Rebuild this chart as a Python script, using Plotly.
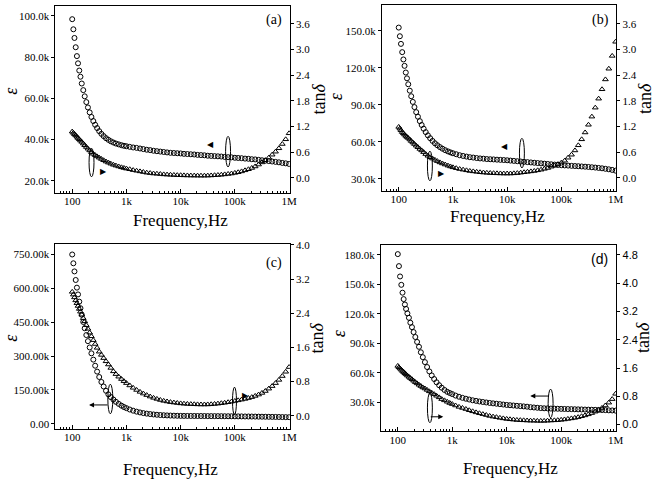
import plotly.graph_objects as go

W, H = 661, 480

# ---------------- data ----------------
freq_hz = [100, 105, 110, 116, 122, 128, 135, 142, 150, 160,
           170, 182, 195, 210, 226, 245, 265, 288, 315, 345,
           380, 420, 465, 515, 575, 640, 720, 810, 900, 1000,
           1150, 1330, 1540, 1780, 2050, 2370, 2740, 3160, 3650, 4220,
           4870, 5620, 6490, 7500, 8660, 10000, 11500, 13300, 15400, 17800,
           20500, 23700, 27400, 31600, 36500, 42200, 48700, 56200, 64900, 75000,
           86600, 100000, 115000, 133000, 154000, 178000, 205000, 237000, 274000, 316000,
           365000, 422000, 487000, 562000, 649000, 750000, 866000, 1000000]

# (a)
eps_a_k = [98.4, 93.5, 89.3, 84.8, 80.5, 77.0, 73.5, 70.5, 67.2, 64.0,
           61.0, 58.2, 55.6, 53.2, 51.0, 49.0, 47.2, 45.6, 44.1, 42.8,
           41.7, 40.7, 39.9, 39.2, 38.6, 38.1, 37.7, 37.3, 37.0, 36.8,
           36.5, 36.2, 36.0, 35.7, 35.4, 35.1, 34.9, 34.6, 34.4, 34.2,
           34.0, 33.8, 33.6, 33.5, 33.4, 33.3, 33.1, 33.0, 32.9, 32.8,
           32.6, 32.5, 32.4, 32.2, 32.1, 32.0, 31.9, 31.8, 31.6, 31.5,
           31.4, 31.2, 31.1, 31.0, 30.8, 30.7, 30.5, 30.4, 30.2, 30.0,
           29.8, 29.6, 29.4, 29.2, 29.0, 28.7, 28.5, 28.2]
tan_a = [1.08, 1.05, 1.02, 0.99, 0.96, 0.93, 0.90, 0.87, 0.84, 0.80,
         0.76, 0.72, 0.68, 0.64, 0.60, 0.56, 0.53, 0.50, 0.47, 0.44,
         0.41, 0.38, 0.355, 0.33, 0.305, 0.285, 0.265, 0.245, 0.23, 0.215,
         0.20, 0.18, 0.165, 0.15, 0.135, 0.12, 0.11, 0.10, 0.095, 0.088,
         0.08, 0.075, 0.07, 0.066, 0.062, 0.06, 0.057, 0.055, 0.053, 0.052,
         0.051, 0.050, 0.050, 0.052, 0.055, 0.06, 0.065, 0.072, 0.08, 0.09,
         0.10, 0.115, 0.13, 0.15, 0.175, 0.20, 0.23, 0.265, 0.31, 0.36,
         0.41, 0.47, 0.54, 0.61, 0.69, 0.79, 0.90, 1.04]

# (b)
eps_b_k = [152.5, 145.5, 139.3, 132.6, 126.7, 121.5, 116.1, 111.4, 106.6, 101.4,
           96.9, 92.3, 88.1, 84.0, 80.3, 76.7, 73.6, 70.6, 67.8, 65.2,
           62.9, 60.7, 58.8, 57.2, 55.7, 54.4, 53.2, 52.2, 51.4, 50.7,
           49.9, 49.1, 48.5, 48.0, 47.5, 47.2, 46.8, 46.5, 46.3, 46.0,
           45.85, 45.7, 45.5, 45.35, 45.2, 45.0, 44.75, 44.5, 44.25, 44.0,
           43.75, 43.5, 43.25, 43.0, 42.75, 42.5, 42.25, 42.0, 41.75, 41.5,
           41.25, 41.0, 40.85, 40.7, 40.5, 40.35, 40.2, 40.0, 39.8, 39.6,
           39.35, 39.1, 38.8, 38.5, 38.1, 37.7, 37.2, 36.6]
tan_b = [1.19, 1.15, 1.11, 1.07, 1.04, 1.01, 0.98, 0.955, 0.93, 0.895,
         0.86, 0.825, 0.79, 0.75, 0.715, 0.675, 0.64, 0.60, 0.555, 0.515,
         0.48, 0.45, 0.42, 0.39, 0.36, 0.335, 0.31, 0.285, 0.265, 0.245,
         0.225, 0.205, 0.19, 0.175, 0.16, 0.15, 0.14, 0.13, 0.123, 0.117,
         0.112, 0.108, 0.105, 0.102, 0.10, 0.10, 0.10, 0.105, 0.11, 0.12,
         0.13, 0.14, 0.15, 0.16, 0.175, 0.19, 0.21, 0.23, 0.26, 0.285,
         0.32, 0.355, 0.40, 0.47, 0.54, 0.64, 0.76, 0.90, 1.06, 1.24,
         1.43, 1.64, 1.85, 2.07, 2.30, 2.55, 2.85, 3.18]

# (c)
eps_c_k = [750, 711, 675, 637, 603, 573, 541, 512, 483, 451,
           423, 393, 366, 338, 312, 284, 257, 231, 207, 185,
           165, 146, 130, 118, 107, 97, 88, 80, 74, 69,
           63, 57.8, 53.5, 50, 47.1, 44.7, 42.7, 41, 39.7, 38.5,
           37.6, 36.8, 36.2, 35.6, 35.2, 34.8, 34.6, 34.5, 34.4, 34.3,
           34.2, 34.1, 34.0, 33.8, 33.7, 33.6, 33.5, 33.4, 33.2, 33.1,
           33.0, 32.8, 32.6, 32.4, 32.2, 32.0, 31.8, 31.6, 31.3, 31.1,
           30.8, 30.6, 30.3, 30.1, 29.8, 29.5, 29.2, 28.9]
tan_c = [2.90, 2.835, 2.77, 2.70, 2.635, 2.57, 2.50, 2.435, 2.365, 2.285,
         2.21, 2.12, 2.035, 1.945, 1.86, 1.77, 1.68, 1.59, 1.50, 1.425,
         1.35, 1.275, 1.20, 1.12, 1.04, 0.975, 0.915, 0.86, 0.81, 0.765,
         0.71, 0.655, 0.605, 0.56, 0.52, 0.485, 0.45, 0.42, 0.395, 0.37,
         0.35, 0.335, 0.32, 0.31, 0.30, 0.29, 0.283, 0.278, 0.274, 0.27,
         0.267, 0.265, 0.265, 0.266, 0.27, 0.277, 0.285, 0.295, 0.305, 0.318,
         0.332, 0.347, 0.362, 0.378, 0.395, 0.415, 0.437, 0.465, 0.497, 0.535,
         0.58, 0.635, 0.695, 0.765, 0.84, 0.93, 1.03, 1.14]

# (d)
eps_d_k = [180.7, 168.5, 158.0, 149.5, 141.5, 135.0, 129.5, 125.0, 120.5, 116.0,
           111.0, 106.5, 101.5, 96.5, 91.5, 86.5, 81.0, 76.0, 71.0, 66.0,
           61.5, 57.5, 53.8, 50.5, 47.5, 45.0, 42.7, 40.8, 39.6, 38.5,
           37.0, 35.8, 34.7, 33.8, 33.0, 32.2, 31.6, 31.0, 30.5, 30.0,
           29.5, 29.1, 28.7, 28.3, 27.9, 27.5, 27.2, 26.9, 26.6, 26.3,
           26.0, 25.7, 25.2, 24.9, 24.6, 24.3, 24.1, 24.0, 23.8, 23.7,
           23.6, 23.5, 23.4, 23.3, 23.2, 23.1, 23.0, 22.9, 22.8, 22.7,
           22.6, 22.5, 22.4, 22.3, 22.2, 22.0, 21.9, 21.7]
tan_d = [1.66, 1.62, 1.585, 1.55, 1.515, 1.485, 1.45, 1.42, 1.385, 1.35,
         1.315, 1.28, 1.24, 1.20, 1.165, 1.125, 1.09, 1.05, 1.02, 0.98,
         0.94, 0.90, 0.86, 0.815, 0.77, 0.72, 0.685, 0.645, 0.61, 0.58,
         0.54, 0.50, 0.47, 0.44, 0.405, 0.375, 0.345, 0.32, 0.295, 0.27,
         0.245, 0.225, 0.21, 0.19, 0.175, 0.16, 0.15, 0.14, 0.13, 0.125,
         0.12, 0.115, 0.11, 0.11, 0.105, 0.105, 0.105, 0.11, 0.115, 0.12,
         0.125, 0.135, 0.145, 0.16, 0.175, 0.19, 0.21, 0.235, 0.26, 0.29,
         0.325, 0.365, 0.41, 0.47, 0.54, 0.62, 0.72, 0.87]

# tick values / labels
x_tick_vals = [100, 1000, 10000, 100000, 1000000]
x_tick_text = ["100", "1k", "10k", "100k", "1M"]

eps_a_tick_vals = [20, 40, 60, 80, 100]
eps_a_tick_text = ["20.0k", "40.0k", "60.0k", "80.0k", "100.0k"]
tan_a_tick_vals = [0.0, 0.6, 1.2, 1.8, 2.4, 3.0, 3.6]
tan_a_tick_text = ["0.0", "0.6", "1.2", "1.8", "2.4", "3.0", "3.6"]

eps_b_tick_vals = [30, 60, 90, 120, 150]
eps_b_tick_text = ["30.0k", "60.0k", "90.0k", "120.0k", "150.0k"]
tan_b_tick_vals = [0.0, 0.6, 1.2, 1.8, 2.4, 3.0, 3.6]
tan_b_tick_text = ["0.0", "0.6", "1.2", "1.8", "2.4", "3.0", "3.6"]

eps_c_tick_vals = [0, 150, 300, 450, 600, 750]
eps_c_tick_text = ["0.00", "150.00k", "300.00k", "450.00k", "600.00k", "750.00k"]
tan_c_tick_vals = [0.0, 0.8, 1.6, 2.4, 3.2, 4.0]
tan_c_tick_text = ["0.0", "0.8", "1.6", "2.4", "3.2", "4.0"]

eps_d_tick_vals = [30, 60, 90, 120, 150, 180]
eps_d_tick_text = ["30.0k", "60.0k", "90.0k", "120.0k", "150.0k", "180.0k"]
tan_d_tick_vals = [0.0, 0.8, 1.6, 2.4, 3.2, 4.0, 4.8]
tan_d_tick_text = ["0.0", "0.8", "1.6", "2.4", "3.2", "4.0", "4.8"]

panel_labels = ["(a)", "(b)", "(c)", "(d)"]
x_title = "Frequency,Hz"
eps_title = "<i>ε</i>"
tan_title = "tan<i>δ</i>"

# ---------------- layout helpers ----------------
SERIF = "Liberation Serif"
SANS = "Liberation Sans"


def px(xp):
    return xp / W


def py(yp):
    return 1 - yp / H


panels = [
    dict(eps=eps_a_k, tan=tan_a, x0=56, x1=293, y0=1, y1=190,
         yl=[14.3, 104.8], yr=[-0.346, 4.015],
         lt=(eps_a_tick_vals, eps_a_tick_text), rt=(tan_a_tick_vals, tan_a_tick_text),
         rfont=SERIF, lfont=SERIF),
    dict(eps=eps_b_k, tan=tan_b, x0=386, x1=623, y0=0, y1=188,
         yl=[20.4, 170.8], yr=[-0.30, 4.04],
         lt=(eps_b_tick_vals, eps_b_tick_text), rt=(tan_b_tick_vals, tan_b_tick_text),
         rfont=SERIF, lfont=SERIF),
    dict(eps=eps_c_k, tan=tan_c, x0=56, x1=293, y0=242, y1=429,
         yl=[-21.8, 796.6], yr=[-0.30, 4.02],
         lt=(eps_c_tick_vals, eps_c_tick_text), rt=(tan_c_tick_vals, tan_c_tick_text),
         rfont=SERIF, lfont=SERIF),
    dict(eps=eps_d_k, tan=tan_d, x0=385, x1=623, y0=243, y1=431.7,
         yl=[0.7, 190.0], yr=[-0.19, 5.08],
         lt=(eps_d_tick_vals, eps_d_tick_text), rt=(tan_d_tick_vals, tan_d_tick_text),
         rfont=SANS, lfont=SERIF),
]

fig = go.Figure()
layout = dict(width=W, height=H, margin=dict(l=0, r=0, t=0, b=0, pad=0),
              paper_bgcolor="white", plot_bgcolor="white", showlegend=False,
              font=dict(family=SERIF, size=11, color="black"))

for i, p in enumerate(panels):
    n = i + 1
    xa = "x" if n == 1 else f"x{n}"
    yl_id = 2 * i + 1
    yr_id = 2 * i + 2
    yl = "y" if yl_id == 1 else f"y{yl_id}"
    yr = f"y{yr_id}"

    fig.add_trace(go.Scatter(x=freq_hz, y=p["eps"], mode="markers", xaxis=xa, yaxis=yl,
                             marker=dict(symbol="circle-open", size=5, color="black",
                                         line=dict(width=1, color="black"))))
    fig.add_trace(go.Scatter(x=freq_hz, y=p["tan"], mode="markers", xaxis=xa, yaxis=yr,
                             marker=dict(symbol="triangle-up-open", size=5, color="black",
                                         line=dict(width=1, color="black"))))

    xkey = "xaxis" if n == 1 else f"xaxis{n}"
    ylkey = "yaxis" if yl_id == 1 else f"yaxis{yl_id}"
    yrkey = f"yaxis{yr_id}"

    layout[xkey] = dict(type="log", domain=[px(p["x0"]), px(p["x1"])], range=[1.69, 6.015],
                        anchor=yl, showline=True, linecolor="black", linewidth=1, mirror=True,
                        showgrid=False, zeroline=False, ticks="inside", ticklen=4,
                        tickcolor="black", tickmode="array", tickvals=x_tick_vals,
                        ticktext=x_tick_text, tickfont=dict(family=SERIF, size=11),
                        ticklabelstandoff=-2,
                        minor=dict(ticks="inside", ticklen=2, tickcolor="black",
                                   dtick="D1", showgrid=False))
    layout[ylkey] = dict(domain=[py(p["y1"]), py(p["y0"])], range=p["yl"], anchor=xa,
                         showline=True, linecolor="black", linewidth=1, showgrid=False,
                         zeroline=False, ticks="outside", ticklen=3, tickcolor="black",
                         tickmode="array", tickvals=p["lt"][0], ticktext=p["lt"][1],
                         tickfont=dict(family=p["lfont"], size=11))
    layout[yrkey] = dict(range=p["yr"], anchor=xa, overlaying=yl, side="right",
                         showline=True, linecolor="black", linewidth=1, showgrid=False,
                         zeroline=False, ticks="outside", ticklen=3, tickcolor="black",
                         tickmode="array", tickvals=p["rt"][0], ticktext=p["rt"][1],
                         tickfont=dict(family=p["rfont"], size=11))

annotations = []


def text_ann(x, y, text, size, family=SERIF, angle=0):
    annotations.append(dict(x=px(x), y=py(y), xref="paper", yref="paper", text=text,
                            showarrow=False, textangle=angle, xanchor="center",
                            yanchor="middle", font=dict(family=family, size=size, color="black")))


# panel labels
text_ann(277, 15, panel_labels[0], 14)
text_ann(607, 15, panel_labels[1], 14)
text_ann(277, 261, panel_labels[2], 14)
text_ann(606, 257, panel_labels[3], 14, family=SANS)

# axis titles
for (ex, ey, tx, ty, fx, fy) in [(11, 87, 322, 95, 182, 218),
                                 (339, 92, 652, 95, 503, 214),
                                 (11, 337, 320, 337, 172, 470),
                                 (342, 332, 650, 337, 516, 469)]:
    text_ann(ex, ey, eps_title, 18, angle=-90)
    text_ann(tx, ty, tan_title, 18, angle=-90)
    text_ann(fx, fy, x_title, 17)

# small filled triangle pointers
text_ann(213, 141, "◀", 8, family="DejaVu Sans")
text_ann(105, 169, "▶", 8, family="DejaVu Sans")
text_ann(510, 143, "◀", 8, family="DejaVu Sans")
text_ann(446, 171, "▶", 8, family="DejaVu Sans")
text_ann(248, 395, "▶", 8, family="DejaVu Sans")


# arrows with shafts (tail offset in pixels)
def arrow(x_tail, y_tail, x_head, y_head):
    annotations.append(dict(x=px(x_head), y=py(y_head), ax=x_tail - x_head, ay=y_tail - y_head,
                            xref="paper", yref="paper", axref="pixel", ayref="pixel",
                            text="", showarrow=True, arrowhead=2, arrowsize=1,
                            arrowwidth=1, arrowcolor="black"))


arrow(110, 405, 90, 405)
arrow(556, 396, 536, 396)
arrow(434, 417, 448, 417)

layout["annotations"] = annotations

# ellipses
shapes = []
for (x0, x1, y0, y1) in [(90, 95, 145, 174), (228, 233, 133, 164),
                         (432, 437, 148, 178), (525, 530, 135, 165),
                         (109, 114, 384, 414), (235, 239, 387, 415),
                         (432, 437, 393, 423), (554, 559, 389, 418)]:
    shapes.append(dict(type="circle", xref="paper", yref="paper",
                       x0=px(x0), x1=px(x1), y0=py(y1), y1=py(y0),
                       line=dict(color="black", width=1)))
layout["shapes"] = shapes

fig.update_layout(**layout)
fig.write_html("out.html", config={"displayModeBar": False},
               post_script="document.body.style.margin='0';document.body.style.overflow='hidden';")
